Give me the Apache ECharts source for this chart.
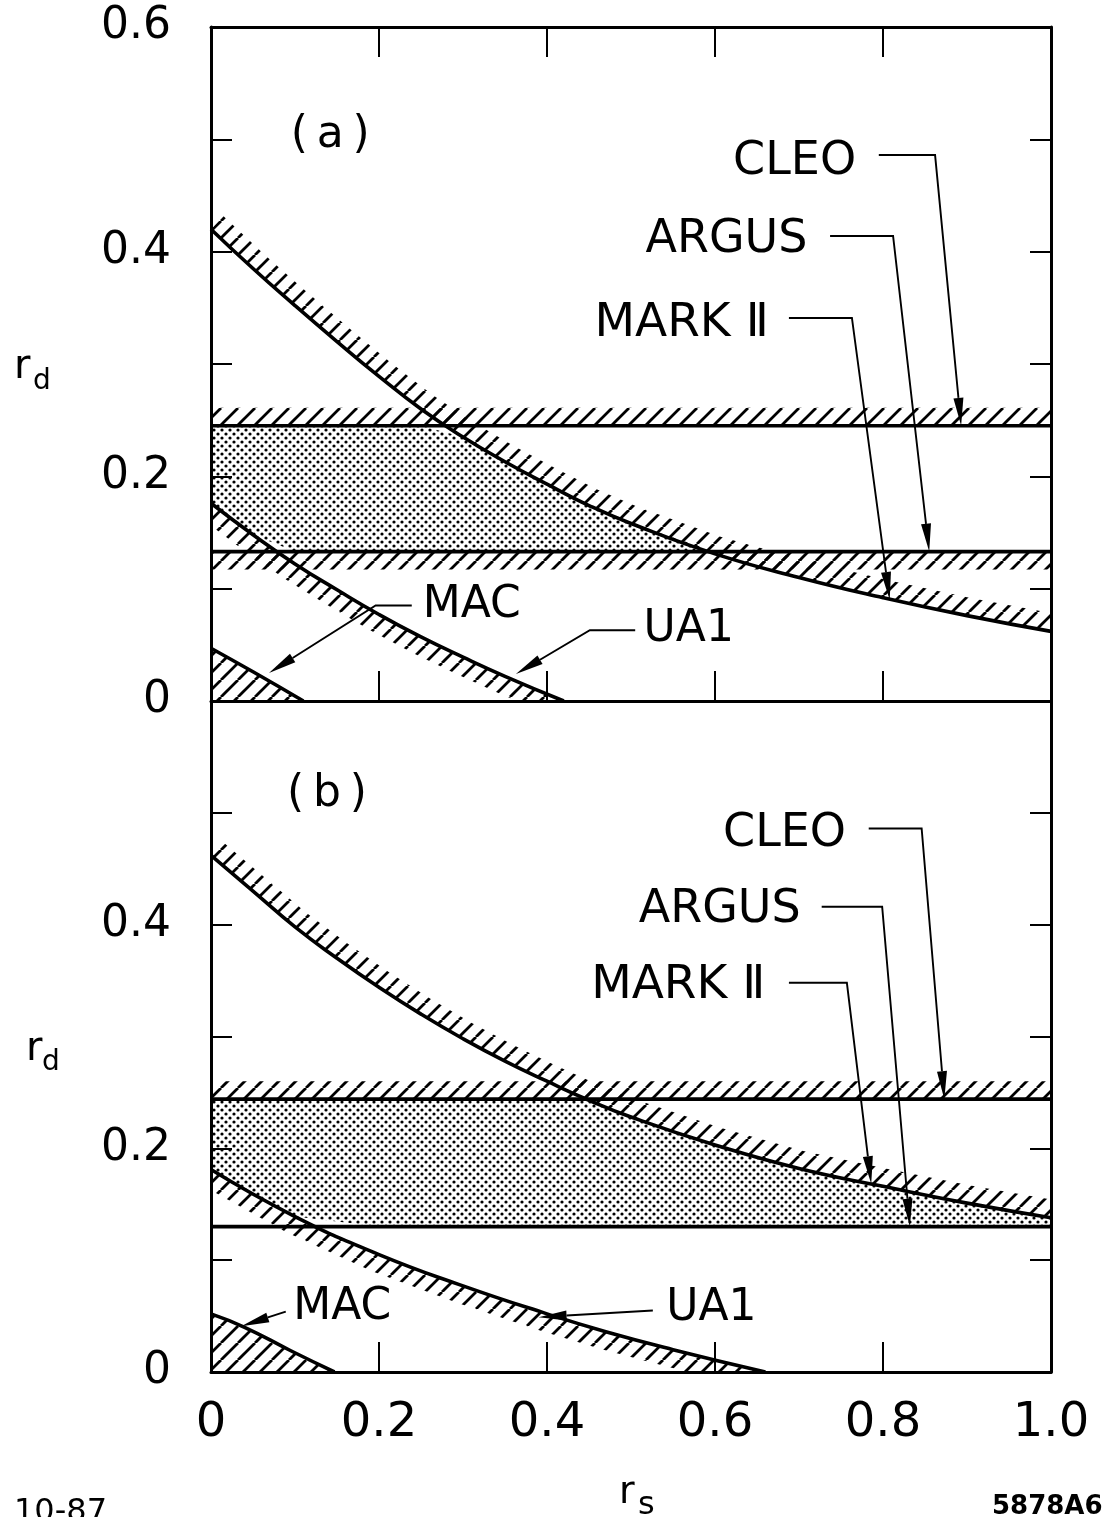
<!DOCTYPE html>
<html>
<head>
<meta charset="utf-8">
<script src="https://cdn.jsdelivr.net/npm/echarts@6/dist/echarts.min.js"></script>
<style>
html, body { margin: 0; padding: 0; background: #fff; }
#chart { width: 1103px; height: 1517px; }
</style>
</head>
<body>
<div id="chart"></div>
<script>
// ---- data (r_s on x, r_d on y) ----
var hLineRs = [0, 1];

// panel (a)
var cleoA = 0.245;
var argusA = 0.133;
var mark2ARs = [0, 0.05, 0.1, 0.15, 0.2, 0.25, 0.3, 0.35, 0.4, 0.45, 0.5, 0.6, 0.7, 0.8, 0.9, 1.0];
var mark2ARd = [0.42, 0.385, 0.352, 0.32, 0.289, 0.26, 0.235, 0.213, 0.193, 0.174, 0.158, 0.131, 0.11, 0.092, 0.076, 0.062];
var ua1ARs = [0, 0.05, 0.1, 0.15, 0.2, 0.25, 0.3, 0.35, 0.42];
var ua1ARd = [0.176, 0.148, 0.122, 0.099, 0.077, 0.057, 0.039, 0.022, 0];
var macARs = [0, 0.05, 0.11];
var macARd = [0.047, 0.026, 0];

// panel (b)
var cleoB = 0.244;
var argusB = 0.13;
var mark2BRs = [0, 0.05, 0.1, 0.15, 0.2, 0.25, 0.3, 0.35, 0.4, 0.45, 0.5, 0.6, 0.7, 0.8, 0.9, 1.0];
var mark2BRd = [0.462, 0.43, 0.398, 0.37, 0.344, 0.32, 0.298, 0.278, 0.26, 0.243, 0.228, 0.203, 0.182, 0.166, 0.151, 0.138];
var ua1BRs = [0, 0.1, 0.2, 0.3, 0.4, 0.47, 0.55, 0.66];
var ua1BRd = [0.181, 0.139, 0.105, 0.077, 0.052, 0.036, 0.02, 0];
var macBRs = [0, 0.04, 0.095, 0.147];
var macBRd = [0.052, 0.04, 0.019, 0];

// axis ticks
var xTickStep = 0.2;
var yTickStep = 0.1;

// annotations: labels and leader arrows
var labelsA = [
	{ text: '(\u2009a\u2009)', at: [0.142, 0.503], align: 'center', size: 44 },
	{ text: 'CLEO', at: [0.768, 0.48], align: 'right', size: 46 },
	{ text: 'ARGUS', at: [0.71, 0.41], align: 'right', size: 46 },
	{ text: 'MARK \u2161', at: [0.664, 0.336], align: 'right', size: 47 },
	{ text: 'MAC', at: [0.252, 0.085], align: 'left', size: 44 },
	{ text: 'UA1', at: [0.515, 0.064], align: 'left', size: 44 }
];
var arrowsA = [
	[[0.795, 0.486], [0.862, 0.486], [0.893, cleoA]],
	[[0.737, 0.414], [0.812, 0.414], [0.855, argusA]],
	[[0.688, 0.341], [0.763, 0.341], [0.808, 0.09]],
	[[0.239, 0.085], [0.196, 0.085], [0.069, 0.025]],
	[[0.505, 0.063], [0.451, 0.063], [0.363, 0.024]]
];
var labelsB = [
	{ text: '(\u2009b\u2009)', at: [0.138, 0.516], align: 'center', size: 44 },
	{ text: 'CLEO', at: [0.756, 0.481], align: 'right', size: 46 },
	{ text: 'ARGUS', at: [0.702, 0.413], align: 'right', size: 46 },
	{ text: 'MARK \u2161', at: [0.66, 0.345], align: 'right', size: 47 },
	{ text: 'MAC', at: [0.098, 0.058], align: 'left', size: 44 },
	{ text: 'UA1', at: [0.542, 0.057], align: 'left', size: 44 }
];
var arrowsB = [
	[[0.783, 0.486], [0.846, 0.486], [0.873, cleoB]],
	[[0.727, 0.416], [0.799, 0.416], [0.832, argusB]],
	[[0.688, 0.348], [0.757, 0.348], [0.786, 0.168]],
	[[0.089, 0.054], [0.036, 0.041]],
	[[0.526, 0.055], [0.39, 0.049]]
];

var FONT = 'DejaVu Sans';

function pairs(xs, ys) {
	return xs.map(function (x, i) { return [x, ys[i]]; });
}
function hLine(v) {
	return hLineRs.map(function (x) { return [x, v]; });
}

// fill patterns
function hatchPattern() {
	var c = document.createElement('canvas');
	c.width = 17; c.height = 17;
	var g = c.getContext('2d');
	g.strokeStyle = '#000';
	g.lineWidth = 2.8;
	g.beginPath();
	for (var k = -1; k <= 1; k++) {
		g.moveTo(k * 17, 17);
		g.lineTo(k * 17 + 17, 0);
	}
	g.stroke();
	return { image: c, repeat: 'repeat' };
}
function dotPattern() {
	var c = document.createElement('canvas');
	c.width = 8; c.height = 8;
	var g = c.getContext('2d');
	g.fillStyle = '#000';
	[[2, 2], [6, 6]].forEach(function (p) {
		g.beginPath();
		g.arc(p[0], p[1], 1.6, 0, Math.PI * 2);
		g.fill();
	});
	return { image: c, repeat: 'repeat' };
}
var HATCH = hatchPattern();
var DOTS = dotPattern();

// hatched strip on one side of a curve (side 1 = above, -1 = below)
function bandSeries(gi, points, side, thick) {
	return {
		type: 'custom', xAxisIndex: gi * 2, yAxisIndex: gi * 2, z: 2, silent: true, clip: true,
		data: [points[0]],
		renderItem: function (params, api) {
			var px = points.map(function (p) { return api.coord(p); });
			var outer = [];
			for (var i = 0; i < px.length; i++) {
				var a = px[Math.max(i - 1, 0)], b = px[Math.min(i + 1, px.length - 1)];
				var dx = b[0] - a[0], dy = b[1] - a[1];
				var len = Math.sqrt(dx * dx + dy * dy) || 1;
				outer.push([px[i][0] + side * thick * dy / len, px[i][1] - side * thick * dx / len]);
			}
			return {
				type: 'polygon',
				shape: { points: px.concat(outer.reverse()) },
				style: { fill: HATCH, stroke: null }
			};
		}
	};
}

// allowed (dotted) region: above max(ARGUS, UA1), below min(CLEO, MARK II)
function allowedSeries(gi, cleo, argus, mkRs, mkRd, uaRs, uaRd) {
	var upper = mkRs.map(function (x, i) { return [x, Math.max(argus, Math.min(cleo, mkRd[i]))]; });
	var lower = uaRs.map(function (x, i) { return [x, Math.max(argus, uaRd[i])]; });
	lower.push([1, argus]);
	var poly = upper.concat(lower.reverse());
	return {
		type: 'custom', xAxisIndex: gi * 2, yAxisIndex: gi * 2, z: 1, silent: true, clip: true,
		data: [poly[0]],
		renderItem: function (params, api) {
			return {
				type: 'polygon',
				shape: { points: poly.map(function (p) { return api.coord(p); }) },
				style: { fill: DOTS, stroke: null }
			};
		}
	};
}

function lineSeries(gi, data, smooth) {
	return {
		type: 'line', xAxisIndex: gi * 2, yAxisIndex: gi * 2, z: 3, silent: true,
		data: data, showSymbol: false, smooth: smooth ? 0.5 : false,
		lineStyle: { color: '#000', width: 3.6 }
	};
}

function arrowSeries(gi, list) {
	return {
		type: 'custom', xAxisIndex: gi * 2, yAxisIndex: gi * 2, z: 4, silent: true,
		data: list.map(function (l) { return l[l.length - 1]; }),
		renderItem: function (params, api) {
			var px = list[params.dataIndex].map(function (p) { return api.coord(p); });
			var b = px[px.length - 1], a = px[px.length - 2];
			var dx = b[0] - a[0], dy = b[1] - a[1];
			var len = Math.sqrt(dx * dx + dy * dy) || 1;
			var ux = dx / len, uy = dy / len;
			var L = 28, w = 5;
			var base = [b[0] - ux * L, b[1] - uy * L];
			var line = px.slice(0, px.length - 1).concat([base]);
			return {
				type: 'group',
				children: [{
					type: 'polyline',
					shape: { points: line },
					style: { stroke: '#000', lineWidth: 1.9, fill: null }
				}, {
					type: 'polygon',
					shape: { points: [b, [base[0] - uy * w, base[1] + ux * w], [base[0] + uy * w, base[1] - ux * w]] },
					style: { fill: '#000' }
				}]
			};
		}
	};
}

function textSeries(gi, items) {
	return {
		type: 'custom', xAxisIndex: gi * 2, yAxisIndex: gi * 2, z: 5, silent: true,
		data: items.map(function (t) { return t.at; }),
		renderItem: function (params, api) {
			var t = items[params.dataIndex];
			var p = api.coord([api.value(0), api.value(1)]);
			return {
				type: 'text', x: p[0], y: p[1],
				style: { text: t.text, fontFamily: FONT, fontSize: t.size, fill: '#000', align: t.align, verticalAlign: 'middle' }
			};
		}
	};
}

var axisLineStyle = { show: true, onZero: false, lineStyle: { color: '#000', width: 3 } };

function xAxes(gi, showLabels, showTop) {
	return [{
		gridIndex: gi, type: 'value', min: 0, max: 1, interval: xTickStep, position: 'bottom', z: 6,
		axisLine: axisLineStyle,
		axisTick: { show: true, inside: true, length: 30, lineStyle: { color: '#000', width: 2 } },
		splitLine: { show: false },
		axisLabel: {
			show: showLabels, margin: 28, fontFamily: FONT, fontSize: 48, color: '#000',
			showMinLabel: true, showMaxLabel: true,
			formatter: function (v) { return v === 0 ? '0' : v.toFixed(1); }
		}
	}, {
		gridIndex: gi, type: 'value', min: 0, max: 1, interval: xTickStep, position: 'top', z: 6,
		show: showTop,
		axisLine: axisLineStyle,
		axisTick: { show: true, inside: true, length: 30, lineStyle: { color: '#000', width: 2 } },
		splitLine: { show: false },
		axisLabel: { show: false }
	}];
}

function yAxes(gi, showTopLabel) {
	return [{
		gridIndex: gi, type: 'value', min: 0, max: 0.6, interval: yTickStep, position: 'left', z: 6,
		axisLine: axisLineStyle,
		axisTick: { show: true, inside: true, length: 21, lineStyle: { color: '#000', width: 2 } },
		splitLine: { show: false },
		axisLabel: {
			margin: 40, fontFamily: FONT, fontSize: 44, color: '#000', padding: [24, 0, 0, 0],
			showMinLabel: true, showMaxLabel: true,
			formatter: function (v) {
				var k = Math.round(v * 10);
				if (k % 2) return '';
				if (k === 0) return '0';
				if (k === 6 && !showTopLabel) return '';
				return (k / 10).toFixed(1);
			}
		}
	}, {
		gridIndex: gi, type: 'value', min: 0, max: 0.6, interval: yTickStep, position: 'right', z: 6,
		axisLine: axisLineStyle,
		axisTick: { show: true, inside: true, length: 21, lineStyle: { color: '#000', width: 2 } },
		splitLine: { show: false },
		axisLabel: { show: false }
	}];
}

var option = {
	animation: false,
	backgroundColor: '#fff',
	grid: [
		{ left: 211, top: 27, width: 840, height: 674 },
		{ left: 211, top: 701, width: 840, height: 671 }
	],
	xAxis: xAxes(0, false, true).concat(xAxes(1, true, false)),
	yAxis: yAxes(0, true).concat(yAxes(1, false)),
	graphic: [
		{ type: 'text', left: 14, top: 348, style: { text: 'r', fontFamily: FONT, fontSize: 40, fill: '#000' } },
		{ type: 'text', left: 33, top: 368, style: { text: 'd', fontFamily: FONT, fontSize: 28, fill: '#000' } },
		{ type: 'text', left: 26, top: 1030, style: { text: 'r', fontFamily: FONT, fontSize: 40, fill: '#000' } },
		{ type: 'text', left: 42, top: 1049, style: { text: 'd', fontFamily: FONT, fontSize: 28, fill: '#000' } },
		{ type: 'text', left: 619, top: 1474, style: { text: 'r', fontFamily: FONT, fontSize: 38, fill: '#000' } },
		{ type: 'text', left: 638, top: 1490, style: { text: 's', fontFamily: FONT, fontSize: 32, fill: '#000' } },
		{ type: 'text', left: 992, top: 1494, style: { text: '5878A6', fontFamily: FONT, fontSize: 26, fontWeight: 'bold', fill: '#000' } },
		{ type: 'text', left: 14, top: 1497, style: { text: '10-87', fontFamily: FONT, fontSize: 32, fill: '#000' } }
	],
	series: [
		// panel (a)
		allowedSeries(0, cleoA, argusA, mark2ARs, mark2ARd, ua1ARs, ua1ARd),
		bandSeries(0, hLine(cleoA), 1, 18),
		bandSeries(0, hLine(argusA), -1, 18),
		bandSeries(0, pairs(mark2ARs, mark2ARd), 1, 18),
		bandSeries(0, pairs(ua1ARs, ua1ARd), -1, 18),
		bandSeries(0, pairs(macARs, macARd), -1, 60),
		lineSeries(0, hLine(cleoA), false),
		lineSeries(0, hLine(argusA), false),
		lineSeries(0, pairs(mark2ARs, mark2ARd), true),
		lineSeries(0, pairs(ua1ARs, ua1ARd), true),
		lineSeries(0, pairs(macARs, macARd), true),
		arrowSeries(0, arrowsA),
		textSeries(0, labelsA),
		// panel (b)
		allowedSeries(1, cleoB, argusB, mark2BRs, mark2BRd, ua1BRs, ua1BRd),
		bandSeries(1, hLine(cleoB), 1, 18),
		bandSeries(1, pairs(mark2BRs, mark2BRd), 1, 18),
		bandSeries(1, pairs(ua1BRs, ua1BRd), -1, 18),
		bandSeries(1, pairs(macBRs, macBRd), -1, 60),
		lineSeries(1, hLine(cleoB), false),
		lineSeries(1, hLine(argusB), false),
		lineSeries(1, pairs(mark2BRs, mark2BRd), true),
		lineSeries(1, pairs(ua1BRs, ua1BRd), true),
		lineSeries(1, pairs(macBRs, macBRd), true),
		arrowSeries(1, arrowsB),
		textSeries(1, labelsB)
	]
};

var myChart = echarts.init(document.getElementById('chart'));
myChart.setOption(option);
</script>
</body>
</html>
